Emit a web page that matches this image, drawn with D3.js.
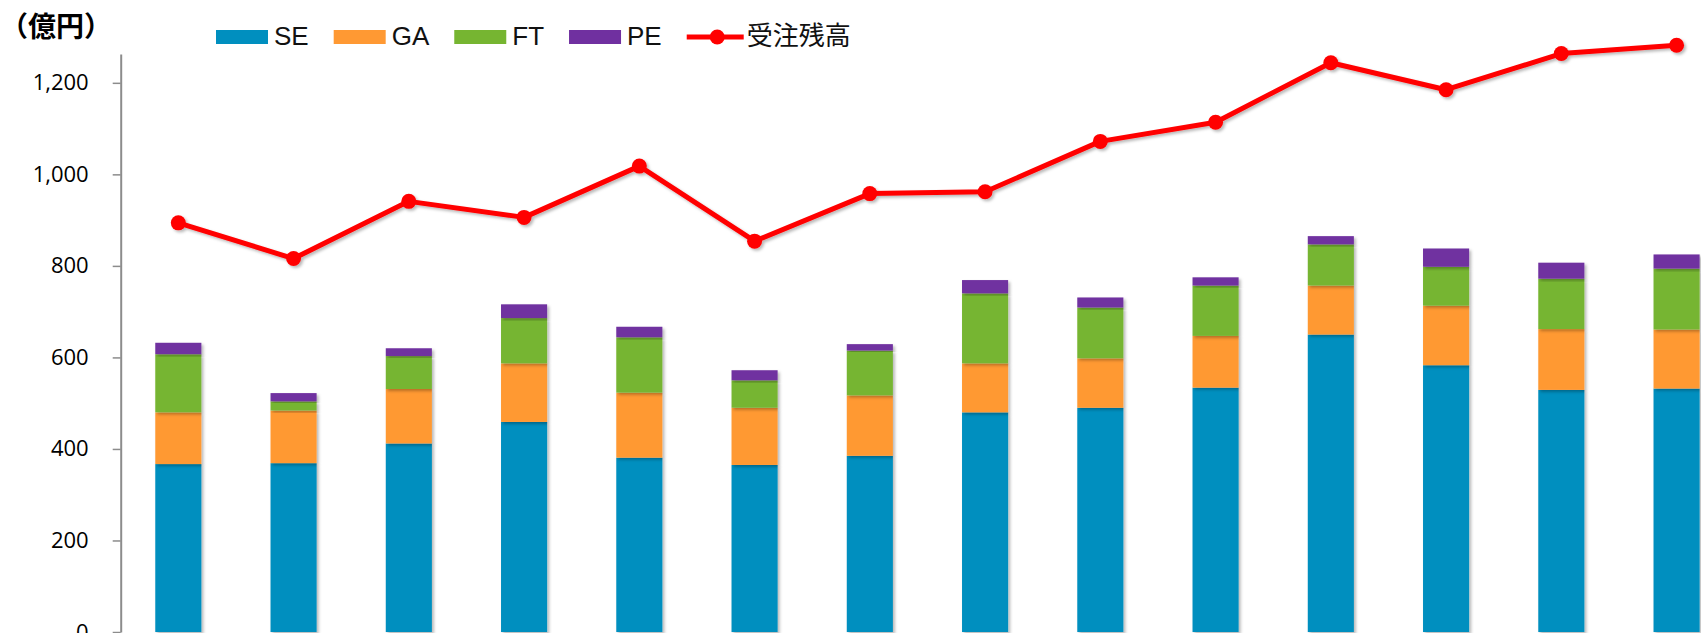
<!DOCTYPE html>
<html>
<head>
<meta charset="utf-8">
<script src="https://cdn.jsdelivr.net/npm/d3@7"></script>
<style>
  body { margin: 0; background: #fff; }
  svg { display: block; }
</style>
</head>
<body>
<div id="graph"></div>
<script>
// data
const periods = ["P1", "P2", "P3", "P4", "P5", "P6", "P7", "P8", "P9", "P10", "P11", "P12", "P13", "P14"];
const seValues = [367, 369, 412, 459, 381, 365, 385, 480, 490, 534, 650, 583, 529, 532];
const gaValues = [113, 115, 119, 128, 142, 125, 132, 107, 108, 113, 107, 130, 133, 129];
const ftValues = [127, 20, 72, 99, 121, 60, 98, 153, 111, 110, 90, 85, 110, 133];
const peValues = [25, 18, 17, 30, 23, 22, 14, 29, 22, 18, 18, 40, 35, 31];
const backlog = [894, 816, 941, 906, 1018, 854, 958, 962, 1072, 1114, 1244, 1185, 1264, 1282];
const seriesNames = ["SE", "GA", "FT", "PE"];
const lineName = "受注残高";
const yTicks = [0, 200, 400, 600, 800, 1000, 1200];
const unitLabel = "（億円）";

const colors = {
    SE: "#008fbf",
    GA: "#ff9933",
    FT: "#76b531",
    PE: "#7030a0",
    line: "#ff0000"
};

// set the dimensions of the graph
const width = 1701,
    height = 633,
    plot = { left: 120.7, top: 54, bottom: 632 };

let svg = d3.select("#graph")
    .append("svg")
    .attr("width", width)
    .attr("height", height);

// soft shadow like the office chart
let defs = svg.append("defs");
let shadow = defs.append("filter")
    .attr("id", "shadow")
    .attr("x", "-20%").attr("y", "-20%")
    .attr("width", "140%").attr("height", "140%");
shadow.append("feDropShadow")
    .attr("dx", 2).attr("dy", 2)
    .attr("stdDeviation", 1.6)
    .attr("flood-color", "#000")
    .attr("flood-opacity", 0.28);

// build the stacked table
let table = periods.map((p, i) => {
    return { period: p, SE: seValues[i], GA: gaValues[i], FT: ftValues[i], PE: peValues[i] };
});
let stacked = d3.stack().keys(seriesNames)(table);

// X scale
let x = d3.scaleBand()
    .domain(periods)
    .range([plot.left, plot.left + 14 * 115.25])
    .paddingInner(0.6)
    .paddingOuter(0.3);

// Y scale
let y = d3.scaleLinear()
    .domain([0, 1263])
    .range([plot.bottom, plot.top]);

// Bars
let layers = svg.append("g")
    .selectAll("g")
    .data(stacked)
    .enter()
    .append("g")
    .attr("fill", (d) => colors[d.key]);

layers.selectAll("rect")
    .data((d) => d)
    .enter()
    .append("rect")
    .attr("x", (d) => x(d.data.period))
    .attr("y", (d) => y(d[1]))
    .attr("width", x.bandwidth())
    .attr("height", (d) => y(d[0]) - y(d[1]))
    .attr("filter", "url(#shadow)");

// Y axis
let yAxis = svg.append("g")
    .attr("transform", "translate(" + plot.left + ",0)")
    .call(d3.axisLeft(y)
        .tickValues(yTicks)
        .tickFormat(d3.format(","))
        .tickSizeInner(8)
        .tickSizeOuter(0)
        .tickPadding(24));

yAxis.select(".domain")
    .attr("stroke", "#8c8c8c")
    .attr("stroke-width", 2);
yAxis.selectAll(".tick line")
    .attr("stroke", "#8c8c8c")
    .attr("stroke-width", 1.5);
yAxis.selectAll("text")
    .attr("font-family", "'Open Sans', sans-serif")
    .attr("font-size", "22px")
    .attr("fill", "#000");

// Backlog line
let line = d3.line()
    .x((d, i) => x(periods[i]) + x.bandwidth() / 2)
    .y((d) => y(d));

let lineGroup = svg.append("g")
    .attr("filter", "url(#shadow)");

lineGroup.append("path")
    .datum(backlog)
    .attr("d", line)
    .attr("fill", "none")
    .attr("stroke", colors.line)
    .attr("stroke-width", 5)
    .attr("stroke-linejoin", "round");

lineGroup.selectAll("circle")
    .data(backlog)
    .enter()
    .append("circle")
    .attr("cx", (d, i) => x(periods[i]) + x.bandwidth() / 2)
    .attr("cy", (d) => y(d))
    .attr("r", 7.5)
    .attr("fill", colors.line);

// unit label
svg.append("text")
    .attr("x", 0)
    .attr("y", 37)
    .attr("font-family", "'Noto Sans CJK JP', sans-serif")
    .attr("font-weight", "bold")
    .attr("font-size", "28px")
    .attr("fill", "#000")
    .text(unitLabel);

// Legend
let legend = svg.append("g");
let lx = 216;
seriesNames.concat([lineName]).forEach((name) => {
    if (name === lineName) {
        legend.append("line")
            .attr("x1", lx).attr("x2", lx + 57)
            .attr("y1", 37).attr("y2", 37)
            .attr("stroke", colors.line)
            .attr("stroke-width", 5);
        legend.append("circle")
            .attr("cx", lx + 30.5).attr("cy", 37)
            .attr("r", 7.5)
            .attr("fill", colors.line);
        lx += 60;
    } else {
        legend.append("rect")
            .attr("x", lx).attr("y", 30)
            .attr("width", 52).attr("height", 14)
            .attr("fill", colors[name]);
        lx += 58;
    }
    let t = legend.append("text")
        .attr("x", lx)
        .attr("y", 45)
        .attr("font-family", name === lineName ? "'Noto Sans CJK JP', sans-serif" : "'Liberation Sans', Arial, sans-serif")
        .attr("font-size", "26px")
        .attr("fill", "#111")
        .text(name);
    lx += t.node().getComputedTextLength() + 25;
});
</script>
</body>
</html>
